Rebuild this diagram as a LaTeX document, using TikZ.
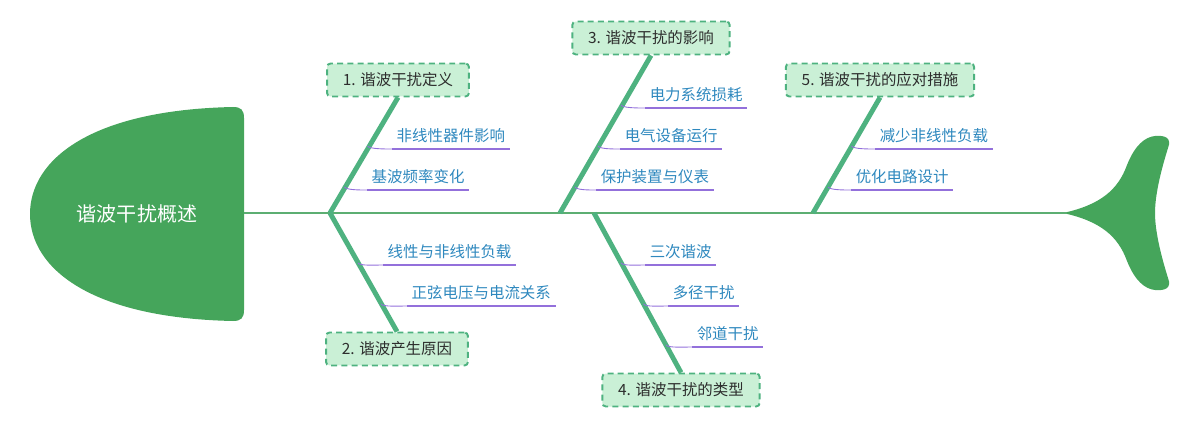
\documentclass[tikz,border=0pt]{standalone}
\usepackage{fontspec}
\setmainfont{Noto Sans CJK SC}
\definecolor{headgreen}{RGB}{69,165,91}
\definecolor{spinecol}{RGB}{92,174,114}
\definecolor{bonecol}{RGB}{78,178,128}
\definecolor{boxfill}{RGB}{202,240,214}
\definecolor{boxtext}{RGB}{45,45,45}
\definecolor{subtext}{RGB}{46,136,190}
\definecolor{ulinecol}{RGB}{147,112,219}
\begin{document}
\begin{tikzpicture}[x=0.02cm,y=-0.02cm,
  spine/.style={draw=spinecol,line width=1.7pt},
  bone/.style={draw=bonecol,line width=2.8pt},
  catbox/.style={draw=bonecol,fill=boxfill,line width=1.1pt,dash pattern=on 3.4pt off 2.4pt,
     rounded corners=2pt,minimum height=0.66cm,inner xsep=9pt,text=boxtext,
     font=\fontsize{8.8}{10}\selectfont},
  subnode/.style={anchor=south west,inner xsep=2.5pt,inner ysep=3.5pt,text=subtext,
     font=\fontsize{8.8}{10}\selectfont},
  uline/.style={draw=ulinecol,line width=1.2pt},
  conn/.style={draw=ulinecol,line width=0.5pt}]
\useasboundingbox (0,0) rectangle (1200,429);
% head
\fill[headgreen] (233,107) .. controls (90,110) and (30,160) .. (30,214)
  .. controls (30,268) and (90,318) .. (233,321)
  .. controls (241,321) and (244,318) .. (244,310) -- (244,118)
  .. controls (244,110) and (241,107) .. (233,107) -- cycle;
\node[text=white,font=\fontsize{11.4}{13}\selectfont] (title) at (137,214) {谐波干扰概述};
\coordinate (headE) at (244,213);
% tail
\fill[headgreen] (1063,213) .. controls (1100,205) and (1118,190) .. (1127,165)
  .. controls (1135,145) and (1145,137) .. (1155,136)
  .. controls (1165,135) and (1172,138) .. (1168,148)
  .. controls (1158,180) and (1155,200) .. (1155,213)
  .. controls (1155,226) and (1158,246) .. (1168,278)
  .. controls (1172,288) and (1165,291) .. (1155,290)
  .. controls (1145,289) and (1135,281) .. (1127,261)
  .. controls (1118,236) and (1100,221) .. (1063,213) -- cycle;
\coordinate (tailW) at (1066,213);
\draw[spine] (headE) -- (tailW);
% bone roots
\coordinate (r1) at (330,213);
\coordinate (r3) at (560,213);
\coordinate (r4) at (594,213);
\coordinate (r5) at (813,213);
% category boxes
\node[catbox] (c1) at (398,80) {1. 谐波干扰定义};
\node[catbox] (c2) at (397,349) {2. 谐波产生原因};
\node[catbox] (c3) at (651,38) {3. 谐波干扰的影响};
\node[catbox] (c4) at (681,390) {4. 谐波干扰的类型};
\node[catbox] (c5) at (880,80) {5. 谐波干扰的应对措施};
\draw[bone] (r1) -- (c1.south);
\draw[bone] (r1) -- (c2.north);
\draw[bone] (r3) -- (c3.south);
\draw[bone] (r4) -- (c4.north);
\draw[bone] (r5) -- (c5.south);
% sub topics
\node[subnode] (s11) at (392,149) {非线性器件影响};
\node[subnode] (s12) at (367,190) {基波频率变化};
\node[subnode] (s21) at (383,265) {线性与非线性负载};
\node[subnode] (s22) at (407,306) {正弦电压与电流关系};
\node[subnode] (s31) at (645,108) {电力系统损耗};
\node[subnode] (s32) at (620,149) {电气设备运行};
\node[subnode] (s33) at (596,190) {保护装置与仪表};
\node[subnode] (s41) at (645,265) {三次谐波};
\node[subnode] (s42) at (668,306) {多径干扰};
\node[subnode] (s43) at (692,347) {邻道干扰};
\node[subnode] (s51) at (875,149) {减少非线性负载};
\node[subnode] (s52) at (851,190) {优化电路设计};
% points on bones
\coordinate (p11) at (367.5,146);
\coordinate (p12) at (344.5,187);
\coordinate (p21) at (358,263);
\coordinate (p22) at (381,304);
\coordinate (p31) at (621,105);
\coordinate (p32) at (598,146);
\coordinate (p33) at (575,187);
\coordinate (p41) at (621,263);
\coordinate (p42) at (643.5,304);
\coordinate (p43) at (666,345);
\coordinate (p51) at (851.5,146);
\coordinate (p52) at (828,187);
\foreach \s in {11,12,21,22,31,32,33,41,42,43,51,52}{
  \draw[uline] (s\s.south west) -- (s\s.south east);
  \draw[conn] (p\s) .. controls +(2,3) and +(-8,0) .. (s\s.south west);
}
\end{tikzpicture}
\end{document}
